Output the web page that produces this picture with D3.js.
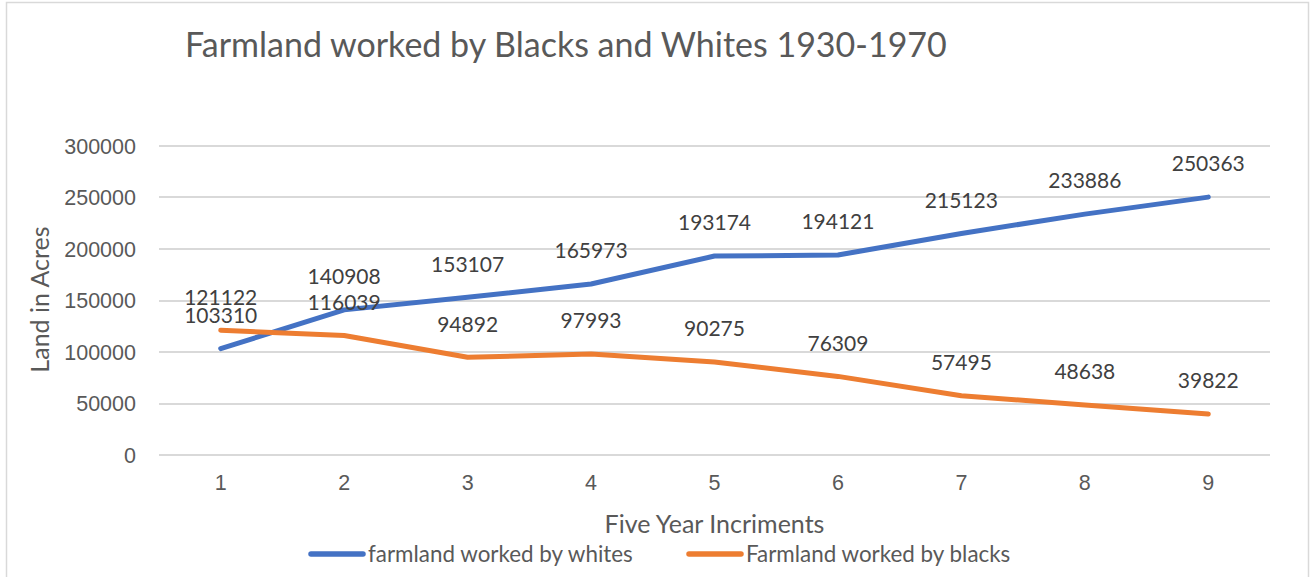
<!DOCTYPE html>
<html lang="en">
<head>
<meta charset="utf-8">
<title>Farmland worked by Blacks and Whites 1930-1970</title>
<script src="https://cdn.jsdelivr.net/npm/d3@7/dist/d3.min.js"></script>
<style>
  body { margin: 0; background: #fff; font-family: Lato, "Open Sans", sans-serif; }
  .grid line { stroke: #d9d9d9; stroke-width: 1.3; shape-rendering: crispEdges; }
  .axis text { fill: #595959; font-size: 21.5px; }
  .line { fill: none; stroke-width: 5; stroke-linejoin: round; stroke-linecap: round; }
  .dlabel { fill: #404040; font-size: 21px; text-anchor: middle; }
</style>
</head>
<body>
<script>
  // data
  var increments = [1, 2, 3, 4, 5, 6, 7, 8, 9];
  var whites = [103310, 140908, 153107, 165973, 193174, 194121, 215123, 233886, 250363];
  var blacks = [121122, 116039, 94892, 97993, 90275, 76309, 57495, 48638, 39822];
  var yTicks = [0, 50000, 100000, 150000, 200000, 250000, 300000];

  var W = 1311, H = 577;
  var margin = { top: 146, right: 41, bottom: 122, left: 159 },
    width = W - margin.left - margin.right,
    height = H - margin.top - margin.bottom;

  var svg = d3.select("body").append("svg")
    .attr("width", W).attr("height", H);

  // chart border
  svg.append("rect")
    .attr("x", 6.5).attr("y", 2.5)
    .attr("width", 1302).attr("height", 590)
    .attr("fill", "none").attr("stroke", "#d9d9d9").attr("stroke-width", 1.5);

  svg.append("text")
    .attr("x", 185).attr("y", 57)
    .attr("fill", "#595959").style("font-size", "34px")
    .text("Farmland worked by Blacks and Whites 1930-1970");

  var g = svg.append("g")
    .attr("transform", "translate(" + margin.left + "," + margin.top + ")");

  var x = d3.scaleBand().domain(increments).range([0, width]);
  var y = d3.scaleLinear().domain([0, 300000]).range([height, 0]);

  // gridlines
  g.append("g").attr("class", "grid")
    .selectAll("line").data(yTicks).enter().append("line")
    .attr("x1", 0).attr("x2", width)
    .attr("y1", function(d) { return Math.round(y(d)); })
    .attr("y2", function(d) { return Math.round(y(d)); });

  var yAxis = g.append("g").attr("class", "axis")
    .call(d3.axisLeft(y).tickValues(yTicks).tickSize(0).tickPadding(23).tickFormat(d3.format("d")));
  yAxis.select(".domain").remove();
  yAxis.selectAll("text").attr("dy", "0.34em");

  var xAxis = g.append("g").attr("class", "axis")
    .attr("transform", "translate(0," + height + ")")
    .call(d3.axisBottom(x).tickSize(0).tickPadding(20));
  xAxis.select(".domain").remove();

  // axis titles
  svg.append("text")
    .attr("transform", "translate(49," + (margin.top + height / 2 - 1) + ") rotate(-90)")
    .attr("text-anchor", "middle").attr("fill", "#595959").style("font-size", "25px")
    .text("Land in Acres");

  svg.append("text")
    .attr("x", margin.left + width / 2).attr("y", 533)
    .attr("text-anchor", "middle").attr("fill", "#595959").style("font-size", "25px")
    .text("Five Year Incriments");

  var cx = function(i) { return x(increments[i]) + x.bandwidth() / 2; };

  var series = [
    { name: "farmland worked by whites", values: whites, color: "#4472c4" },
    { name: "Farmland worked by blacks", values: blacks, color: "#ed7d31" }
  ];

  var line = d3.line()
    .x(function(d, i) { return cx(i); })
    .y(function(d) { return y(d); });

  series.forEach(function(s) {
    g.append("path").attr("class", "line")
      .attr("stroke", s.color)
      .attr("d", line(s.values));
  });

  series.forEach(function(s) {
    g.selectAll(null).data(s.values).enter().append("text")
      .attr("class", "dlabel")
      .attr("x", function(d, i) { return cx(i); })
      .attr("y", function(d) { return y(d) - 33; })
      .attr("dy", "0.35em")
      .text(function(d) { return d; });
  });

  // legend
  var legend = svg.append("g").attr("transform", "translate(0,554)");
  var legX = [309, 687];
  series.forEach(function(s, i) {
    legend.append("line")
      .attr("x1", legX[i] + 2).attr("x2", legX[i] + 54)
      .attr("y1", 0).attr("y2", 0)
      .attr("stroke", s.color).attr("stroke-width", 5.5).attr("stroke-linecap", "round");
    legend.append("text")
      .attr("x", legX[i] + 59).attr("y", 0).attr("dy", "0.35em")
      .attr("fill", "#595959").style("font-size", "22.4px")
      .text(s.name);
  });
</script>
</body>
</html>
